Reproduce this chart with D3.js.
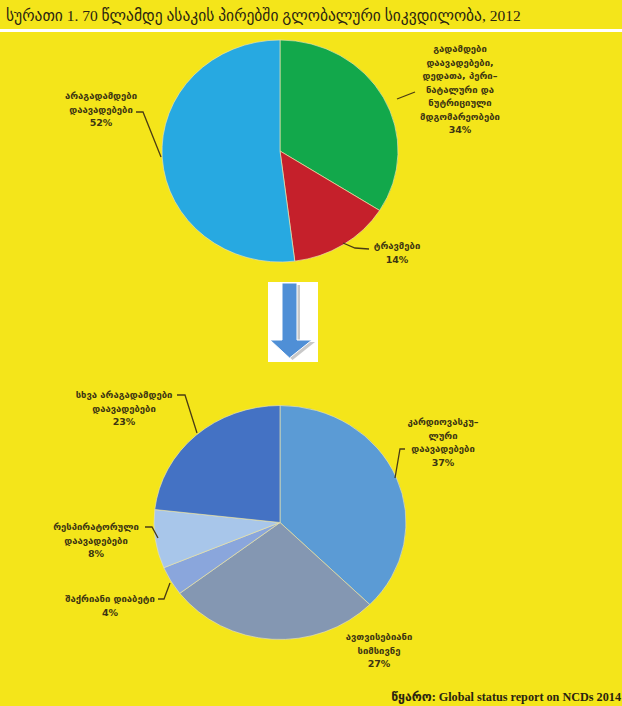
<!DOCTYPE html>
<html>
<head>
<meta charset="utf-8">
<script src="https://cdn.jsdelivr.net/npm/d3@7/dist/d3.min.js"></script>
<style>
  html, body { margin: 0; padding: 0; background: #f4e51a; }
  svg { display: block; }
  .lbl { font-family: "DejaVu Sans", "Liberation Serif", sans-serif; font-size: 9.5px; font-weight: bold; fill: #3d3512; }
</style>
</head>
<body>
<script>
// Deaths before age 70, by cause (2012)
const topCategories = [
  "გადამდები დაავადებები, დედათა, პერინატალური და ნუტრიციული მდგომარეობები",
  "ტრავმები",
  "არაგადამდები დაავადებები"
];
const topValues = [34, 14, 52];
const topLabelLines = [
  ["გადამდები", "დაავადებები,", "დედათა, პერი–", "ნატალური და", "ნუტრიციული", "მდგომარეობები"],
  ["ტრავმები"],
  ["არაგადამდები", "დაავადებები"]
];
const topColors = ["#12a84b", "#c5202b", "#27a9e1"];

// Breakdown of non-communicable diseases
const bottomCategories = [
  "კარდიოვასკულური დაავადებები",
  "ავთვისებიანი სიმსივნე",
  "შაქრიანი დიაბეტი",
  "რესპირატორული დაავადებები",
  "სხვა არაგადამდები დაავადებები"
];
const bottomValues = [37, 27, 4, 8, 23];
const bottomLabelLines = [
  ["კარდიოვასკუ–", "ლური", "დაავადებები"],
  ["ავთვისებიანი", "სიმსივნე"],
  ["შაქრიანი დიაბეტი"],
  ["რესპირატორული", "დაავადებები"],
  ["სხვა არაგადამდები", "დაავადებები"]
];
const bottomColors = ["#5b9bd5", "#8497b2", "#8aa6dc", "#a8c6ea", "#4472c4"];

const titleText = "სურათი 1. 70 წლამდე ასაკის პირებში გლობალური სიკვდილობა, 2012";
const sourceText = "წყარო: Global status report on NCDs 2014";

// Layout: pie geometry and label anchors (text centre x, first baseline y, leader path)
const topPie = { cx: 280, cy: 151, rx: 118, ry: 111 };
const bottomPie = { cx: 280, cy: 522.5, rx: 126, ry: 117 };
const topLabelLayout = [
  { x: 460, y: 52, leader: [[397, 99], [415, 92]] },
  { x: 397, y: 249, leader: [[343, 243], [355, 248], [369, 249]] },
  { x: 101, y: 99, leader: [[136, 112], [143, 112], [161, 157]] }
];
const bottomLabelLayout = [
  { x: 443, y: 425, leader: [[405, 449], [400, 449], [395, 478]] },
  { x: 379, y: 640, leader: null },
  { x: 110, y: 602, leader: [[158, 599], [164, 599], [170, 583]] },
  { x: 96, y: 530, leader: [[145, 527], [152, 527], [158, 538]] },
  { x: 124, y: 398, leader: [[177, 395], [185, 395], [197, 433]] }
];
const lineStep = 13.5;

const W = 622, H = 706;
const svg = d3.select("body").append("svg").attr("width", W).attr("height", H);

svg.append("rect").attr("width", W).attr("height", H).attr("fill", "#f4e51a");

// Title and divider
svg.append("text")
  .attr("x", 6).attr("y", 21)
  .attr("font-family", "\"Liberation Serif\", \"DejaVu Sans\", serif")
  .attr("font-size", 15.5)
  .attr("fill", "#2a2410")
  .text(titleText);
svg.append("rect").attr("x", 0).attr("y", 29).attr("width", W).attr("height", 3).attr("fill", "#ffffff");

const pie = d3.pie().sort(null).value(d => d);

function drawPie(geom, values, colors, categories) {
  const arc = d3.arc().innerRadius(0).outerRadius(geom.rx);
  const g = svg.append("g")
    .attr("transform", `translate(${geom.cx},${geom.cy}) scale(1,${geom.ry / geom.rx})`);
  g.selectAll("path")
    .data(pie(values))
    .join("path")
    .attr("d", arc)
    .attr("fill", (d, i) => colors[i])
    .attr("stroke", "#e9e2b0")
    .attr("stroke-width", 0.7)
    .append("title").text((d, i) => `${categories[i]}: ${d.data}%`);
}

function drawLabels(values, lines, layout) {
  const line = d3.line();
  values.forEach((v, i) => {
    const L = layout[i];
    if (L.leader) {
      svg.append("path")
        .attr("d", line(L.leader))
        .attr("fill", "none")
        .attr("stroke", "#4a3c14")
        .attr("stroke-width", 1.3);
    }
    const t = svg.append("text").attr("class", "lbl").attr("text-anchor", "middle");
    lines[i].concat([`${v}%`]).forEach((s, k) => {
      t.append("tspan").attr("x", L.x).attr("y", L.y + k * lineStep).text(s);
    });
  });
}

drawPie(topPie, topValues, topColors, topCategories);
drawLabels(topValues, topLabelLines, topLabelLayout);

// Down arrow between the two pies
const arrowG = svg.append("g");
arrowG.append("rect").attr("x", 268).attr("y", 282).attr("width", 50).attr("height", 80).attr("fill", "#ffffff");
const arrowPts = [[282, 283], [297, 283], [297, 340], [312, 340], [289.5, 358], [270, 340], [282, 340]];
arrowG.append("path")
  .attr("d", d3.line()(arrowPts.map(p => [p[0] + 3, p[1] + 2])) + "Z")
  .attr("fill", "#c8c8c8");
arrowG.append("path")
  .attr("d", d3.line()(arrowPts) + "Z")
  .attr("fill", "#4f8fd6")
  .attr("stroke", "#ffffff")
  .attr("stroke-width", 1);

drawPie(bottomPie, bottomValues, bottomColors, bottomCategories);
drawLabels(bottomValues, bottomLabelLines, bottomLabelLayout);

// Source
svg.append("text")
  .attr("x", 621).attr("y", 701)
  .attr("text-anchor", "end")
  .attr("font-family", "\"Liberation Serif\", \"DejaVu Sans\", serif")
  .attr("font-size", 12.2)
  .attr("font-weight", "bold")
  .attr("fill", "#2a2410")
  .text(sourceText);
</script>
</body>
</html>
